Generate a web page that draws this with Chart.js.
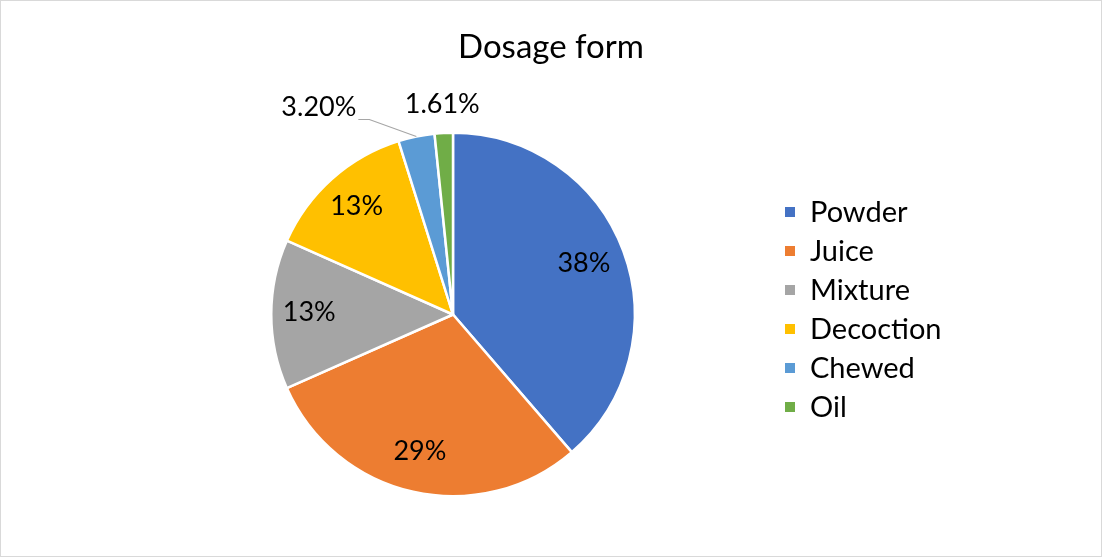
<!DOCTYPE html>
<html>
<head>
<meta charset="utf-8">
<script src="https://cdn.jsdelivr.net/npm/chart.js@4.4.1/dist/chart.umd.min.js"></script>
<style>
  html, body { margin: 0; padding: 0; background: #fff; }
  #wrap { position: relative; width: 1102px; height: 557px; box-sizing: border-box; border: 1px solid #d9d9d9; }
  canvas { display: block; }
</style>
</head>
<body>
<div id="wrap"><canvas id="dosageChart" width="1100" height="555"></canvas></div>
<script>
  // chart data
  const categories = ["Powder", "Juice", "Mixture", "Decoction", "Chewed", "Oil"];
  const shares = [38.4, 29.5, 13.2, 13.4, 3.20, 1.61];
  const shareLabels = ["38%", "29%", "13%", "13%", "3.20%", "1.61%"];
  const sliceColors = ["#4472C4", "#ED7D31", "#A5A5A5", "#FFC000", "#5B9BD5", "#70AD47"];
  const chartTitle = "Dosage form";

  const FONT = "Lato, 'Open Sans', sans-serif";

  // title, labels and legend drawn by hand (Excel style)
  const excelLook = {
    id: "excelLook",
    afterDatasetsDraw(chart) {
      const ctx = chart.ctx;
      const meta = chart.getDatasetMeta(0);
      ctx.save();

      // title
      ctx.fillStyle = "#000";
      ctx.font = "33px " + FONT;
      ctx.textAlign = "center";
      ctx.textBaseline = "middle";
      ctx.fillText(chartTitle, 550, 46);

      // data labels
      ctx.font = "27px " + FONT;
      meta.data.forEach((arc, i) => {
        const p = arc.getProps(["x", "y", "startAngle", "endAngle", "outerRadius"], true);
        const mid = (p.startAngle + p.endAngle) / 2;
        const r = p.outerRadius;
        if (shares[i] < 2.5) {
          // small slice: label just above
          const lx = p.x + Math.cos(mid) * r * 1.16;
          const ly = p.y + Math.sin(mid) * r * 1.16;
          ctx.textAlign = "center";
          ctx.fillText(shareLabels[i], lx, ly);
        } else if (shares[i] < 5) {
          // label pulled out to the left with a leader line
          const ex = p.x + Math.cos(mid) * r;
          const ey = p.y + Math.sin(mid) * r;
          const kx = ex - 47, ky = ey - 17;
          ctx.strokeStyle = "#A6A6A6";
          ctx.lineWidth = 1.2;
          ctx.beginPath();
          ctx.moveTo(ex, ey);
          ctx.lineTo(kx, ky);
          ctx.lineTo(kx - 11, ky);
          ctx.stroke();
          ctx.textAlign = "right";
          ctx.fillText(shareLabels[i], kx - 13, ky - 12);
        } else {
          const lx = p.x + Math.cos(mid) * r * 0.78;
          const ly = p.y + Math.sin(mid) * r * 0.78;
          ctx.textAlign = "center";
          ctx.fillText(shareLabels[i], lx - 2, ly - 2);
        }
      });

      // legend
      ctx.font = "29px " + FONT;
      ctx.textAlign = "left";
      categories.forEach((name, i) => {
        const y = 211 + i * 39;
        ctx.fillStyle = sliceColors[i];
        ctx.fillRect(784, y - 5, 10, 10);
        ctx.fillStyle = "#000";
        ctx.fillText(name, 809, y + 1);
      });
      ctx.restore();
    }
  };

  const ctx = document.getElementById("dosageChart").getContext("2d");
  new Chart(ctx, {
    type: "pie",
    data: {
      labels: categories,
      datasets: [{
        data: shares,
        backgroundColor: sliceColors,
        borderColor: "#ffffff",
        borderWidth: 2.5,
      }],
    },
    options: {
      responsive: false,
      animation: false,
      layout: { padding: { top: 130, bottom: 58, left: 269, right: 465 } },
      plugins: {
        legend: { display: false },
        title: { display: false },
        tooltip: { enabled: false },
      },
    },
    plugins: [excelLook],
  });
</script>
</body>
</html>
